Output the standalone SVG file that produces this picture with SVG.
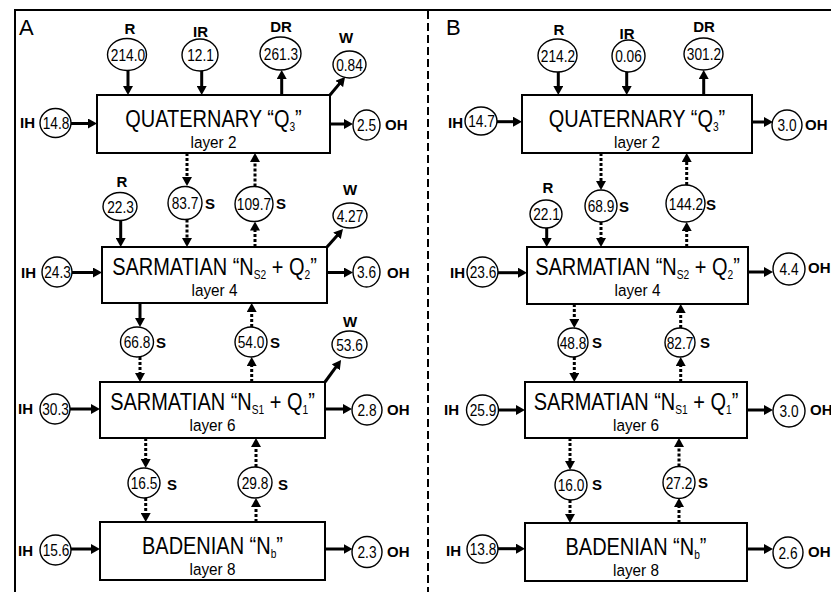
<svg xmlns="http://www.w3.org/2000/svg" width="831" height="592" viewBox="0 0 831 592">
<defs>
<style>
text{font-family:"Liberation Sans",Arial,sans-serif;fill:#000}
.box{fill:#fff;stroke:#000;stroke-width:2}
.c{fill:#fff;stroke:#000;stroke-width:1.4}
.num{font-size:16.5px;text-anchor:middle}
.lbl{font-size:15px;font-weight:bold}
.mid{text-anchor:middle}
.title{font-size:23.5px;text-anchor:middle}
.layer{font-size:17px;text-anchor:middle}
.sub{font-size:12px}
.pn{font-size:22px}
.a{stroke:#000;stroke-width:3;fill:none;marker-end:url(#ah)}
.d{stroke-dasharray:3 2}
.frame{stroke:#000;stroke-width:2;fill:none}
</style>
<marker id="ah" viewBox="0 0 9 10" markerWidth="9" markerHeight="10" refX="3" refY="5" orient="auto" markerUnits="userSpaceOnUse">
<path d="M0,0 L9,5 L0,10 z" fill="#000"/>
</marker>
</defs>
<rect width="831" height="592" fill="#fff"/>
<g id="frame">
<path class="frame" d="M15,592 V10 H831"/>
<line class="frame" x1="428" y1="11" x2="428" y2="592" stroke-dasharray="8 4"/>
<text class="pn" x="19" y="35">A</text>
<text class="pn" x="446" y="35">B</text>
</g>

<!-- Panel A nodes -->
<g id="A-Q3"><rect class="box" x="97" y="95" width="233" height="58"/>
<text class="title" transform="translate(213.5,127) scale(.85,1)">QUATERNARY “Q<tspan class="sub" dy="4">3</tspan><tspan dy="-4">”</tspan></text>
<text class="layer" transform="translate(213.5,148) scale(.9,1)">layer 2</text></g>
<g id="A-L4"><rect class="box" x="102" y="247" width="225" height="56"/>
<text class="title" transform="translate(214.5,275) scale(.85,1)">SARMATIAN “N<tspan class="sub" dy="4">S2</tspan><tspan dy="-4"> + Q</tspan><tspan class="sub" dy="4">2</tspan><tspan dy="-4">”</tspan></text>
<text class="layer" transform="translate(214.5,296) scale(.9,1)">layer 4</text></g>
<g id="A-L6"><rect class="box" x="100" y="382" width="225" height="56"/>
<text class="title" transform="translate(212.5,410) scale(.85,1)">SARMATIAN “N<tspan class="sub" dy="4">S1</tspan><tspan dy="-4"> + Q</tspan><tspan class="sub" dy="4">1</tspan><tspan dy="-4">”</tspan></text>
<text class="layer" transform="translate(212.5,431) scale(.9,1)">layer 6</text></g>
<g id="A-L8"><rect class="box" x="100" y="522" width="225" height="58"/>
<text class="title" transform="translate(212.5,554) scale(.85,1)">BADENIAN “N<tspan class="sub" dy="4">b</tspan><tspan dy="-4">”</tspan></text>
<text class="layer" transform="translate(212.5,575) scale(.9,1)">layer 8</text></g>

<g id="A-R1"><text class="lbl mid" x="130" y="34">R</text><ellipse class="c" cx="127" cy="54.5" rx="19.5" ry="16"/><text class="num" transform="translate(128,60.5) scale(.83,1)">214.0</text></g>
<g id="A-IR"><text class="lbl mid" x="200.5" y="37">IR</text><ellipse class="c" cx="200" cy="55" rx="18" ry="16"/><text class="num" transform="translate(200.5,61) scale(.83,1)">12.1</text></g>
<g id="A-DR"><text class="lbl mid" x="281" y="32">DR</text><ellipse class="c" cx="280.5" cy="53.5" rx="20.5" ry="16.5"/><text class="num" transform="translate(281,59.5) scale(.83,1)">261.3</text></g>
<g id="A-W1"><text class="lbl mid" x="346" y="43">W</text><ellipse class="c" cx="349.5" cy="64.5" rx="16.5" ry="13.5"/><text class="num" transform="translate(349.5,70.5) scale(.83,1)">0.84</text></g>
<g id="A-IH1"><text class="lbl" x="20" y="128">IH</text><ellipse class="c" cx="55.5" cy="123" rx="15.5" ry="14.5"/><text class="num" transform="translate(56,129) scale(.83,1)">14.8</text></g>
<g id="A-OH1"><ellipse class="c" cx="366.5" cy="125" rx="13.5" ry="15"/><text class="num" transform="translate(366.5,131) scale(.83,1)">2.5</text><text class="lbl" x="385" y="130">OH</text></g>

<g id="A-S1"><ellipse class="c" cx="185" cy="203" rx="17" ry="16.5"/><text class="num" transform="translate(185,209) scale(.83,1)">83.7</text><text class="lbl" x="205" y="209">S</text></g>
<g id="A-S2"><ellipse class="c" cx="254" cy="204" rx="19" ry="17.5"/><text class="num" transform="translate(254,210) scale(.83,1)">109.7</text><text class="lbl" x="276" y="209">S</text></g>
<g id="A-R2"><text class="lbl mid" x="122" y="187">R</text><ellipse class="c" cx="120" cy="206.5" rx="17" ry="14"/><text class="num" transform="translate(120.5,212.5) scale(.83,1)">22.3</text></g>
<g id="A-W2"><text class="lbl mid" x="350" y="195">W</text><ellipse class="c" cx="350" cy="215.5" rx="17" ry="12.5"/><text class="num" transform="translate(350,221.5) scale(.83,1)">4.27</text></g>
<g id="A-IH2"><text class="lbl" x="21" y="278">IH</text><ellipse class="c" cx="57" cy="272" rx="15" ry="15"/><text class="num" transform="translate(57.5,278) scale(.83,1)">24.3</text></g>
<g id="A-OH2"><ellipse class="c" cx="366.5" cy="272" rx="13.5" ry="15"/><text class="num" transform="translate(366.5,278) scale(.83,1)">3.6</text><text class="lbl" x="387" y="278">OH</text></g>

<g id="A-S3"><ellipse class="c" cx="137" cy="342" rx="16.5" ry="15"/><text class="num" transform="translate(137,348) scale(.83,1)">66.8</text><text class="lbl" x="156" y="348">S</text></g>
<g id="A-S4"><ellipse class="c" cx="251" cy="342" rx="16" ry="15"/><text class="num" transform="translate(251,348) scale(.83,1)">54.0</text><text class="lbl" x="270" y="348">S</text></g>
<g id="A-W3"><text class="lbl mid" x="350" y="327">W</text><ellipse class="c" cx="349.5" cy="344.5" rx="17.5" ry="13.5"/><text class="num" transform="translate(349.5,350.5) scale(.83,1)">53.6</text></g>
<g id="A-IH3"><text class="lbl" x="18" y="414">IH</text><ellipse class="c" cx="55" cy="409" rx="15" ry="15"/><text class="num" transform="translate(55.5,415) scale(.83,1)">30.3</text></g>
<g id="A-OH3"><ellipse class="c" cx="367" cy="410" rx="15" ry="15"/><text class="num" transform="translate(367,416) scale(.83,1)">2.8</text><text class="lbl" x="387" y="415">OH</text></g>

<g id="A-S5"><ellipse class="c" cx="144" cy="483" rx="16" ry="15"/><text class="num" transform="translate(144,489) scale(.83,1)">16.5</text><text class="lbl" x="167" y="490">S</text></g>
<g id="A-S6"><ellipse class="c" cx="255" cy="482.5" rx="17" ry="15.5"/><text class="num" transform="translate(255,488.5) scale(.83,1)">29.8</text><text class="lbl" x="278" y="490">S</text></g>
<g id="A-IH4"><text class="lbl" x="18" y="556">IH</text><ellipse class="c" cx="55.5" cy="550" rx="15.5" ry="15"/><text class="num" transform="translate(56,556) scale(.83,1)">15.6</text></g>
<g id="A-OH4"><ellipse class="c" cx="367" cy="552" rx="15" ry="15.5"/><text class="num" transform="translate(367,558) scale(.83,1)">2.3</text><text class="lbl" x="387" y="557">OH</text></g>

<!-- Panel B nodes -->
<g id="B-Q3"><rect class="box" x="522" y="95" width="230" height="58"/>
<text class="title" transform="translate(637,127) scale(.85,1)">QUATERNARY “Q<tspan class="sub" dy="4">3</tspan><tspan dy="-4">”</tspan></text>
<text class="layer" transform="translate(637,148) scale(.9,1)">layer 2</text></g>
<g id="B-L4"><rect class="box" x="527" y="247" width="221" height="57"/>
<text class="title" transform="translate(637.5,275) scale(.85,1)">SARMATIAN “N<tspan class="sub" dy="4">S2</tspan><tspan dy="-4"> + Q</tspan><tspan class="sub" dy="4">2</tspan><tspan dy="-4">”</tspan></text>
<text class="layer" transform="translate(637.5,296) scale(.9,1)">layer 4</text></g>
<g id="B-L6"><rect class="box" x="525" y="382" width="222" height="56"/>
<text class="title" transform="translate(636,410) scale(.85,1)">SARMATIAN “N<tspan class="sub" dy="4">S1</tspan><tspan dy="-4"> + Q</tspan><tspan class="sub" dy="4">1</tspan><tspan dy="-4">”</tspan></text>
<text class="layer" transform="translate(636,431) scale(.9,1)">layer 6</text></g>
<g id="B-L8"><rect class="box" x="525" y="523" width="222" height="58"/>
<text class="title" transform="translate(636,555) scale(.85,1)">BADENIAN “N<tspan class="sub" dy="4">b</tspan><tspan dy="-4">”</tspan></text>
<text class="layer" transform="translate(636,576) scale(.9,1)">layer 8</text></g>

<g id="B-R1"><text class="lbl mid" x="559" y="35">R</text><ellipse class="c" cx="557.5" cy="55.5" rx="19.5" ry="16.5"/><text class="num" transform="translate(558,61.5) scale(.83,1)">214.2</text></g>
<g id="B-IR"><text class="lbl mid" x="627" y="39">IR</text><ellipse class="c" cx="628.5" cy="56" rx="16.5" ry="16"/><text class="num" transform="translate(628.5,62) scale(.83,1)">0.06</text></g>
<g id="B-DR"><text class="lbl mid" x="704" y="32">DR</text><ellipse class="c" cx="703.5" cy="54" rx="19.5" ry="16"/><text class="num" transform="translate(704,60) scale(.83,1)">301.2</text></g>
<g id="B-IH1"><text class="lbl" x="448" y="128">IH</text><ellipse class="c" cx="481" cy="121" rx="16" ry="14"/><text class="num" transform="translate(481.5,127) scale(.83,1)">14.7</text></g>
<g id="B-OH1"><ellipse class="c" cx="787" cy="125" rx="15" ry="15"/><text class="num" transform="translate(787,131) scale(.83,1)">3.0</text><text class="lbl" x="805" y="130">OH</text></g>

<g id="B-S1"><ellipse class="c" cx="601" cy="206" rx="16" ry="16"/><text class="num" transform="translate(601,212) scale(.83,1)">68.9</text><text class="lbl" x="619" y="212">S</text></g>
<g id="B-S2"><ellipse class="c" cx="685.5" cy="203.5" rx="19.5" ry="18.5"/><text class="num" transform="translate(686,209.5) scale(.83,1)">144.2</text><text class="lbl" x="706" y="210">S</text></g>
<g id="B-R2"><text class="lbl mid" x="548" y="193">R</text><ellipse class="c" cx="546" cy="214" rx="16" ry="14"/><text class="num" transform="translate(546.5,220) scale(.83,1)">22.1</text></g>
<g id="B-IH2"><text class="lbl" x="450" y="278">IH</text><ellipse class="c" cx="482.5" cy="272" rx="15.5" ry="15"/><text class="num" transform="translate(483,278) scale(.83,1)">23.6</text></g>
<g id="B-OH2"><ellipse class="c" cx="789" cy="269" rx="16" ry="16"/><text class="num" transform="translate(789,275) scale(.83,1)">4.4</text><text class="lbl" x="808" y="273">OH</text></g>

<g id="B-S3"><ellipse class="c" cx="573" cy="342.5" rx="15" ry="14.5"/><text class="num" transform="translate(573,348.5) scale(.83,1)">48.8</text><text class="lbl" x="592" y="348">S</text></g>
<g id="B-S4"><ellipse class="c" cx="680" cy="342.5" rx="15" ry="14.5"/><text class="num" transform="translate(680,348.5) scale(.83,1)">82.7</text><text class="lbl" x="700" y="348">S</text></g>
<g id="B-IH3"><text class="lbl" x="444" y="415">IH</text><ellipse class="c" cx="482.5" cy="410" rx="16" ry="15"/><text class="num" transform="translate(483,416) scale(.83,1)">25.9</text></g>
<g id="B-OH3"><ellipse class="c" cx="789" cy="411" rx="16" ry="16"/><text class="num" transform="translate(789,417) scale(.83,1)">3.0</text><text class="lbl" x="810" y="415">OH</text></g>

<g id="B-S5"><ellipse class="c" cx="571" cy="485" rx="16" ry="15"/><text class="num" transform="translate(571,491) scale(.83,1)">16.0</text><text class="lbl" x="592" y="490">S</text></g>
<g id="B-S6"><ellipse class="c" cx="679" cy="482.5" rx="16" ry="16"/><text class="num" transform="translate(679,488.5) scale(.83,1)">27.2</text><text class="lbl" x="698" y="488">S</text></g>
<g id="B-IH4"><text class="lbl" x="446" y="556">IH</text><ellipse class="c" cx="482.5" cy="549" rx="15.5" ry="14"/><text class="num" transform="translate(483,555) scale(.83,1)">13.8</text></g>
<g id="B-OH4"><ellipse class="c" cx="788" cy="552.5" rx="15" ry="15.5"/><text class="num" transform="translate(788,558.5) scale(.83,1)">2.6</text><text class="lbl" x="808" y="557">OH</text></g>

<g id="connectors">
<!-- A top -->
<line class="a" x1="128" y1="70.5" x2="128" y2="89"/>
<line class="a" x1="201.7" y1="71" x2="201.7" y2="89"/>
<line class="a" x1="281.7" y1="95" x2="281.7" y2="76"/>
<line class="a" x1="330" y1="95" x2="341.2" y2="81.6"/>
<line class="a" x1="71" y1="123.5" x2="91" y2="123.5"/>
<line class="a" x1="330" y1="124" x2="347" y2="124"/>
<!-- A Q3-L4 -->
<line class="a d" x1="187" y1="153" x2="187" y2="180"/>
<line class="a d" x1="187" y1="219.5" x2="187" y2="241"/>
<line class="a d" x1="255" y1="247" x2="255" y2="227.5"/>
<line class="a d" x1="255" y1="186.5" x2="255" y2="159"/>
<line class="a" x1="120.7" y1="220.5" x2="120.7" y2="241"/>
<line class="a" x1="327" y1="247" x2="339" y2="233.5"/>
<line class="a" x1="72" y1="272.5" x2="96" y2="272.5"/>
<line class="a" x1="327" y1="272.5" x2="347" y2="272.5"/>
<!-- A L4-L6 -->
<line class="a" x1="140" y1="303" x2="140" y2="321"/>
<line class="a d" x1="140" y1="357" x2="140" y2="376"/>
<line class="a d" x1="251.7" y1="382" x2="251.7" y2="363"/>
<line class="a d" x1="251.7" y1="327" x2="251.7" y2="309"/>
<line class="a" x1="325" y1="382" x2="337.5" y2="364.9"/>
<line class="a" x1="70" y1="409" x2="94" y2="409"/>
<line class="a" x1="325" y1="409" x2="346" y2="409"/>
<!-- A L6-L8 -->
<line class="a d" x1="145.7" y1="438" x2="145.7" y2="462"/>
<line class="a d" x1="145.7" y1="498" x2="145.7" y2="516"/>
<line class="a d" x1="256" y1="522" x2="256" y2="504"/>
<line class="a d" x1="256" y1="467" x2="256" y2="444"/>
<line class="a" x1="71" y1="549" x2="94" y2="549"/>
<line class="a" x1="325" y1="549" x2="346.5" y2="549"/>
<!-- B top -->
<line class="a" x1="558.3" y1="72" x2="558.3" y2="89"/>
<line class="a" x1="626.7" y1="72" x2="626.7" y2="89"/>
<line class="a" x1="703.7" y1="95" x2="703.7" y2="76"/>
<line class="a" x1="497" y1="121.7" x2="516" y2="121.7"/>
<line class="a" x1="752" y1="122" x2="767" y2="122"/>
<!-- B Q3-L4 -->
<line class="a d" x1="601" y1="153" x2="601" y2="184"/>
<line class="a d" x1="601" y1="222" x2="601" y2="241"/>
<line class="a d" x1="686.7" y1="247" x2="686.7" y2="228"/>
<line class="a d" x1="686.7" y1="185" x2="686.7" y2="159"/>
<line class="a" x1="546.7" y1="228" x2="546.7" y2="241"/>
<line class="a" x1="498" y1="272.7" x2="521" y2="272.7"/>
<line class="a" x1="748" y1="272" x2="767" y2="272"/>
<!-- B L4-L6 -->
<line class="a d" x1="574.3" y1="304" x2="574.3" y2="322"/>
<line class="a d" x1="574.3" y1="357" x2="574.3" y2="376"/>
<line class="a d" x1="680.7" y1="382" x2="680.7" y2="363"/>
<line class="a d" x1="680.7" y1="328" x2="680.7" y2="310"/>
<line class="a" x1="498.5" y1="410" x2="519" y2="410"/>
<line class="a" x1="747" y1="410" x2="767" y2="410"/>
<!-- B L6-L8 -->
<line class="a d" x1="570" y1="438" x2="570" y2="464"/>
<line class="a d" x1="570" y1="500" x2="570" y2="517"/>
<line class="a d" x1="679" y1="523" x2="679" y2="504"/>
<line class="a d" x1="679" y1="466.5" x2="679" y2="444"/>
<line class="a" x1="498" y1="548.7" x2="519" y2="548.7"/>
<line class="a" x1="747" y1="549" x2="767" y2="549"/>
</g>
</svg>
